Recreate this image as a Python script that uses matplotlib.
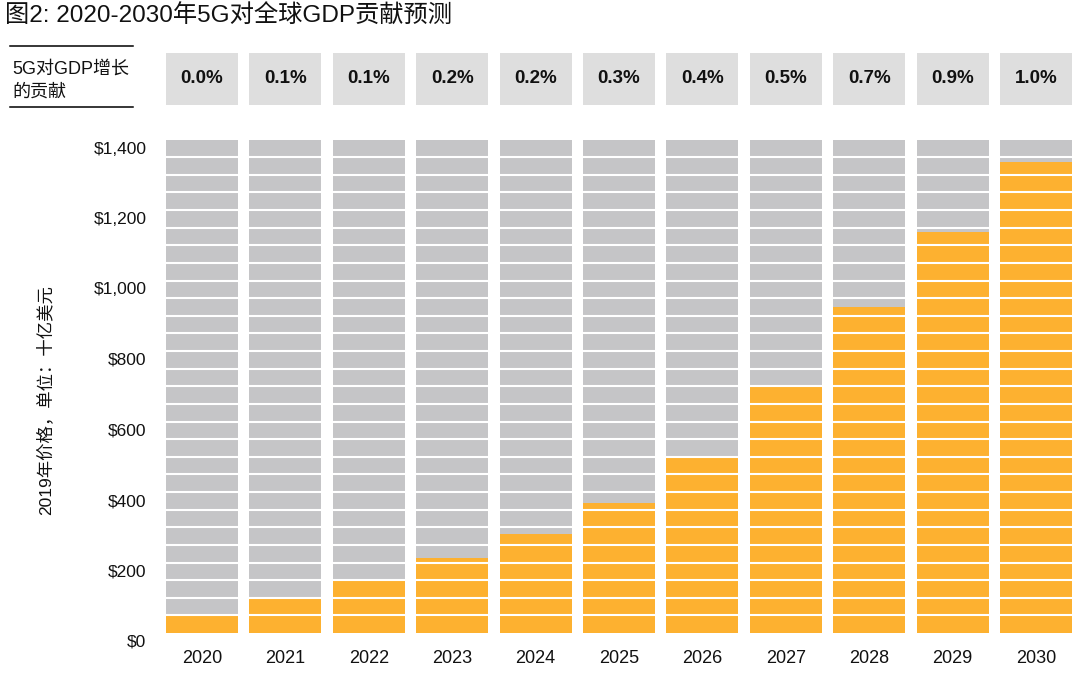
import matplotlib
matplotlib.use("Agg")
import matplotlib.pyplot as plt
import matplotlib.transforms as mtransforms
from matplotlib.lines import Line2D

plt.rcParams['font.family'] = ['Liberation Sans', 'Noto Sans CJK SC', 'DejaVu Sans']

years = ['2020', '2021', '2022', '2023', '2024', '2025', '2026', '2027', '2028', '2029', '2030']
gdp_contrib = [50, 100, 150, 213, 281, 370, 500, 700, 924, 1137, 1336]
pct_labels = ['0.0%', '0.1%', '0.1%', '0.2%', '0.2%', '0.3%', '0.4%', '0.5%', '0.7%', '0.9%', '1.0%']
y_ticks = [0, 200, 400, 600, 800, 1000, 1200, 1400]
y_tick_labels = ['$0', '$200', '$400', '$600', '$800', '$1,000', '$1,200', '$1,400']
y_max = 1400
segment = 50

title = '图2: 2020-2030年5G对全球GDP贡献预测'
header_label = '5G对GDP增长\n的贡献'
y_label = '2019年价格，单位：十亿美元'

W, H = 1080, 674
fig = plt.figure(figsize=(W / 100, H / 100), dpi=100)

def fx(px):
    return px / W

def fy(py):
    return 1 - py / H

GRAY = '#C5C5C7'
ORANGE = '#FDB130'
BOX = '#DEDEDE'
bar_w = 0.865

# main axes
left, right, top, bottom = 160.3, 1077.7, 139.5, 633.0
ax = fig.add_axes([fx(left), fy(bottom), fx(right) - fx(left), fy(top) - fy(bottom)])
x = list(range(len(years)))
ax.bar(x, [y_max] * len(years), width=bar_w, color=GRAY, zorder=1)
ax.bar(x, gdp_contrib, width=bar_w, color=ORANGE, zorder=2)
for v in range(segment, y_max, segment):
    ax.axhline(v, color='white', lw=1.5, zorder=3)
ax.set_xlim(-0.5, len(years) - 0.5)
ax.set_ylim(0, y_max)
for s in ax.spines.values():
    s.set_visible(False)
ax.set_xticks(x)
ax.set_xticklabels(years, fontsize=13, color='#111111')
ax.set_yticks(y_ticks)
ax.set_yticklabels(y_tick_labels, fontsize=12.5, color='#111111')
ax.tick_params(axis='both', length=0)
ax.tick_params(axis='x', pad=12)
ax.tick_params(axis='y', pad=10)
off = mtransforms.ScaledTranslation(0, -8 / 100, fig.dpi_scale_trans)
for lab in ax.get_yticklabels():
    lab.set_transform(lab.get_transform() + off)

fig.text(fx(45), fy(400), y_label, rotation=90, fontsize=12.5, color='#111111',
         ha='center', va='center')

# header boxes
hax = fig.add_axes([fx(left), fy(105), fx(right) - fx(left), fy(52.7) - fy(105)])
hax.bar(x, [1] * len(years), width=bar_w, color=BOX, bottom=0)
for i, p in enumerate(pct_labels):
    hax.text(i, 0.5, p, ha='center', va='center', fontsize=13.5, fontweight='bold', color='#111111')
hax.set_xlim(-0.5, len(years) - 0.5)
hax.set_ylim(0, 1)
hax.axis('off')

# header label and lines
fig.add_artist(Line2D([fx(10), fx(133)], [fy(45.5), fy(45.5)], color='black', lw=1.1))
fig.add_artist(Line2D([fx(10), fx(133)], [fy(107), fy(107)], color='black', lw=1.1))
fig.text(fx(12), fy(81), header_label, fontsize=13, va='center', ha='left', color='#111111', linespacing=1.45)

# title
fig.text(fx(5), fy(16), title, fontsize=17.5, va='center', ha='left', color='#111111')

fig.savefig('out.png', dpi=100)
